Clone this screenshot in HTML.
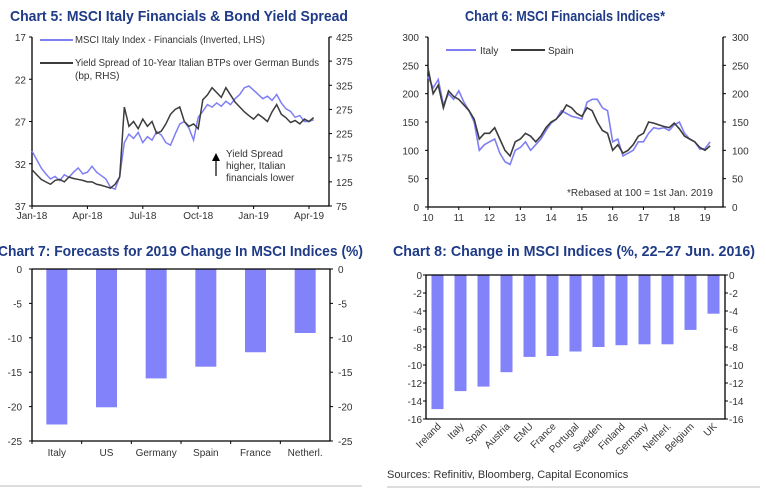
<!DOCTYPE html>
<html><head><meta charset="utf-8"><style>
html,body{margin:0;padding:0;background:#fff;}
svg{display:block;font-family:"Liberation Sans",sans-serif;}
.t{fill:#1f3b87;font-weight:bold;font-size:15px;}
.tk{fill:#333;font-size:10px;}
.ax{stroke:#000;stroke-width:1.3;fill:none;}
</style></head><body>
<svg id="s" width="766" height="495" viewBox="0 0 766 495">
<text class="t" x="10" y="21" textLength="338" lengthAdjust="spacingAndGlyphs">Chart 5: MSCI Italy Financials &amp; Bond Yield Spread</text>
<text class="t" x="465" y="21" textLength="200" lengthAdjust="spacingAndGlyphs">Chart 6: MSCI Financials Indices*</text>
<text class="t" x="-2" y="256" textLength="365" lengthAdjust="spacingAndGlyphs">Chart 7: Forecasts for 2019 Change In MSCI Indices (%)</text>
<text class="t" x="393" y="256" textLength="362" lengthAdjust="spacingAndGlyphs">Chart 8: Change in MSCI Indices (%, 22–27 Jun. 2016)</text>
<text x="387" y="478" font-size="11" fill="#333">Sources: Refinitiv, Bloomberg, Capital Economics</text>
<line x1="0" y1="486" x2="362" y2="486" stroke="#bbb"/>
<line x1="387" y1="487" x2="760" y2="487" stroke="#bbb"/>
<g id="g5"></g><g id="g6"></g><g id="g7"></g><g id="g8"></g>
</svg>
<script>
// Chart 5 data (quarter-month steps from Jan-18)
const c5Italy=[30.5,31.5,32.5,33.2,33.8,33.5,34.0,33.3,33.6,33.0,32.5,33.2,33.0,32.3,33.0,33.4,33.8,34.8,35.0,33.5,29.5,28.5,29.0,28.3,29.5,28.8,29.2,28.2,28.6,29.5,29.8,28.5,27.3,27.0,27.8,29.2,26.5,25.8,25.0,25.3,24.8,25.2,24.6,25.0,24.3,23.8,23.0,22.8,23.3,23.8,24.3,24.0,24.5,23.8,24.8,25.5,25.8,26.5,26.3,27.0,27.0,26.8];
const c5Spread=[150,140,130,125,120,128,130,125,135,132,130,128,125,125,120,118,115,112,120,135,280,240,250,235,255,240,250,225,230,245,265,275,280,250,240,245,235,295,305,320,310,300,320,305,290,280,270,262,255,265,258,250,270,285,265,258,248,252,245,255,250,258];
const c5XLabels=["Jan-18","Apr-18","Jul-18","Oct-18","Jan-19","Apr-19"];
const c5LTicks=[17,22,27,32,37];
const c5RTicks=[425,375,325,275,225,175,125,75];
// Chart 6 data (two-month steps from 2010)
const c6Italy=[230,210,225,180,200,190,205,185,170,150,100,110,115,120,95,80,75,100,105,115,100,110,120,135,148,155,170,165,160,158,155,185,190,190,175,170,115,120,90,95,100,115,115,130,140,138,140,135,145,150,130,120,115,102,103,115];
const c6Spain=[245,200,215,175,205,195,190,180,170,155,120,130,130,140,120,100,90,115,120,130,125,115,125,140,150,155,165,180,175,165,160,175,170,150,135,130,100,110,95,100,110,125,130,150,148,145,142,140,148,138,125,120,115,105,100,108];
const c6XLabels=["10","11","12","13","14","15","16","17","18","19"];
const c6Ticks=[0,50,100,150,200,250,300];
// Chart 7
const c7Cats=["Italy","US","Germany","Spain","France","Netherl."];
const c7Vals=[-22.6,-20.1,-15.9,-14.2,-12.1,-9.3];
const c7Ticks=[0,-5,-10,-15,-20,-25];
// Chart 8
const c8Cats=["Ireland","Italy","Spain","Austria","EMU","France","Portugal","Sweden","Finland","Germany","Netherl.","Belgium","UK"];
const c8Vals=[-14.9,-12.9,-12.4,-10.8,-9.1,-9.0,-8.5,-8.0,-7.8,-7.7,-7.7,-6.1,-4.3];
const c8Ticks=[0,-2,-4,-6,-8,-10,-12,-14,-16];

const NS="http://www.w3.org/2000/svg";
function mk(p,tag,a,txt){const e=document.createElementNS(NS,tag);for(const k in a)e.setAttribute(k,a[k]);if(txt!==undefined)e.textContent=txt;p.appendChild(e);return e;}
const BLUE="#7f7ff5",DARK="#3c3c3c",BAR="#8282fb";

// ---- Chart 5
(function(){
const g=document.getElementById('g5');
const L=32,R=329,T=37,B=206;
const x=m=>L+m*(277/15), yl=v=>T+(v-17)/20*(B-T), yr=v=>T+(425-v)/350*(B-T);
let e=mk(g,'path',{d:`M${L},${T}V${B}H${R}V${T}`,class:'ax'});


c5LTicks.forEach(v=>{const t=mk(g,'text',{x:L-6,y:yl(v)+4,'text-anchor':'end',class:'tk'},v);


mk(g,'line',{x1:L-3,x2:L,y1:yl(v),y2:yl(v),stroke:'#000'});});
c5RTicks.forEach(v=>{const t=mk(g,'text',{x:R+7,y:yr(v)+4,class:'tk'},v);


mk(g,'line',{x1:R,x2:R+3,y1:yr(v),y2:yr(v),stroke:'#000'});});
c5XLabels.forEach((s,i)=>{const t=mk(g,'text',{x:x(i*3),y:B+13,'text-anchor':'middle',class:'tk'},s);


mk(g,'line',{x1:x(i*3),x2:x(i*3),y1:B,y2:B+3,stroke:'#000'});});
let p=mk(g,'polyline',{points:c5Italy.map((v,i)=>x(i*0.25)+','+yl(v)).join(' '),fill:'none',stroke:BLUE,'stroke-width':1.5});


p=mk(g,'polyline',{points:c5Spread.map((v,i)=>x(i*0.25)+','+yr(v)).join(' '),fill:'none',stroke:DARK,'stroke-width':1.5});


mk(g,'line',{x1:40,x2:73,y1:40,y2:40,stroke:BLUE,'stroke-width':2});
p=mk(g,'text',{x:75,y:43,class:'tk',textLength:190,lengthAdjust:'spacingAndGlyphs'},'MSCI Italy Index - Financials (Inverted, LHS)');


mk(g,'line',{x1:40,x2:73,y1:63,y2:63,stroke:DARK,'stroke-width':2});
p=mk(g,'text',{x:75,y:66,class:'tk',textLength:244,lengthAdjust:'spacingAndGlyphs'},'Yield Spread of 10-Year Italian BTPs over German Bunds');


mk(g,'text',{x:75,y:79,class:'tk'},'(bp, RHS)');
mk(g,'line',{x1:216,x2:216,y1:176,y2:160,stroke:'#000','stroke-width':1.2});
mk(g,'path',{d:'M212,161L216,153L220,161Z',fill:'#000'});
p=mk(g,'text',{x:226,y:157,class:'tk'},'Yield Spread');


mk(g,'text',{x:226,y:169,class:'tk'},'higher, Italian');
mk(g,'text',{x:226,y:181,class:'tk'},'financials lower');
})();

// ---- Chart 6
(function(){
const g=document.getElementById('g6');
const L=428,R=723,T=37,B=207;
const x=yr=>L+yr*30.78, y=v=>B-v/300*(B-T);
let e=mk(g,'path',{d:`M${L},${T}V${B}H${R}V${T}`,class:'ax'});


c6Ticks.forEach(v=>{
let t=mk(g,'text',{x:L-9,y:y(v)+4,'text-anchor':'end',class:'tk'},v);


t=mk(g,'text',{x:R+9,y:y(v)+4,class:'tk'},v);


mk(g,'line',{x1:L-3,x2:L,y1:y(v),y2:y(v),stroke:'#000'});
mk(g,'line',{x1:R,x2:R+3,y1:y(v),y2:y(v),stroke:'#000'});});
c6XLabels.forEach((s,i)=>{const t=mk(g,'text',{x:x(i),y:B+14,'text-anchor':'middle',class:'tk'},s);


mk(g,'line',{x1:x(i),x2:x(i),y1:B,y2:B+3,stroke:'#000'});});
let p=mk(g,'polyline',{points:c6Italy.map((v,i)=>x(i/6)+','+y(v)).join(' '),fill:'none',stroke:BLUE,'stroke-width':1.6});


p=mk(g,'polyline',{points:c6Spain.map((v,i)=>x(i/6)+','+y(v)).join(' '),fill:'none',stroke:DARK,'stroke-width':1.6});


mk(g,'line',{x1:446,x2:476,y1:50,y2:50,stroke:BLUE,'stroke-width':2});
p=mk(g,'text',{x:480,y:54,class:'tk'},'Italy');


mk(g,'line',{x1:511,x2:545,y1:50,y2:50,stroke:DARK,'stroke-width':2});
p=mk(g,'text',{x:548,y:54,class:'tk'},'Spain');


p=mk(g,'text',{x:567,y:196,class:'tk'},'*Rebased at 100 = 1st Jan. 2019');


})();

// ---- Chart 7
(function(){
const g=document.getElementById('g7');
const L=32,R=330,T=269,B=441,n=c7Cats.length,w=(R-L)/n;
const y=v=>T+(-v)/25*(B-T);
c7Vals.forEach((v,i)=>{const r=mk(g,'rect',{x:L+w*(i+0.5)-10.5,y:T,width:21,height:y(v)-T,fill:BAR});


const t=mk(g,'text',{x:L+w*(i+0.5),y:B+15,'text-anchor':'middle',class:'tk'},c7Cats[i]);


mk(g,'line',{x1:L+w*i,x2:L+w*i,y1:B,y2:B+3,stroke:'#000'});});
let e=mk(g,'path',{d:`M${L},${T}V${B}H${R}V${T}H${L}`,class:'ax'});


c7Ticks.forEach(v=>{
let t=mk(g,'text',{x:L-10,y:y(v)+4,'text-anchor':'end',class:'tk'},v);


t=mk(g,'text',{x:R+8,y:y(v)+4,class:'tk'},v);


mk(g,'line',{x1:L-3,x2:L,y1:y(v),y2:y(v),stroke:'#000'});
mk(g,'line',{x1:R,x2:R+3,y1:y(v),y2:y(v),stroke:'#000'});});
})();

// ---- Chart 8
(function(){
const g=document.getElementById('g8');
const L=426,R=725,T=275,B=419,n=c8Cats.length,w=(R-L)/n;
const y=v=>T+(-v)/16*(B-T);
c8Vals.forEach((v,i)=>{const cx=L+w*(i+0.5);
const r=mk(g,'rect',{x:cx-6,y:T,width:12,height:y(v)-T,fill:BAR});


const t=mk(g,'text',{x:cx+4,y:B+8,'text-anchor':'end',class:'tk','font-size':'10.5',transform:`rotate(-45 ${cx+4} ${B+8})`},c8Cats[i]);

});
let e=mk(g,'path',{d:`M${L},${B}V${T}H${R}V${B}H${L}`,class:'ax'});


c8Ticks.forEach(v=>{
let t=mk(g,'text',{x:L-4,y:y(v)+4,'text-anchor':'end',class:'tk'},v);


t=mk(g,'text',{x:R+4,y:y(v)+4,class:'tk'},v);


mk(g,'line',{x1:L-3,x2:L,y1:y(v),y2:y(v),stroke:'#000'});
mk(g,'line',{x1:R,x2:R+3,y1:y(v),y2:y(v),stroke:'#000'});});
})();
</script>
</body></html>
